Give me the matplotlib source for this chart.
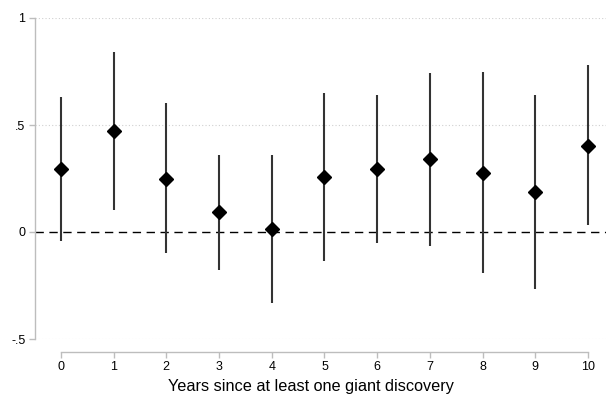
import matplotlib
matplotlib.use("Agg")
import matplotlib.pyplot as plt

years = [0, 1, 2, 3, 4, 5, 6, 7, 8, 9, 10]
coef = [0.294, 0.472, 0.248, 0.092, 0.014, 0.258, 0.294, 0.340, 0.277, 0.187, 0.403]
upper = [0.632, 0.843, 0.601, 0.361, 0.360, 0.651, 0.639, 0.743, 0.749, 0.639, 0.779]
lower = [-0.042, 0.103, -0.098, -0.178, -0.330, -0.136, -0.050, -0.064, -0.193, -0.266, 0.031]
yticks = [-0.5, 0, 0.5, 1]
yticklabels = ["-.5", "0", ".5", "1"]
xlabel = "Years since at least one giant discovery"

plt.rcParams['font.family'] = ['Liberation Sans', 'DejaVu Sans']

fig = plt.figure(figsize=(6.06, 3.97), dpi=100)
ax = fig.add_axes([35/606, 58/397, 571/606, 321/397])

for yv in [-0.5, 0.5, 1.0]:
    ax.axhline(yv, color='#d0d0d0', lw=0.8, ls=(0, (1, 2)), zorder=0)
ax.axhline(0, color='black', lw=1.0, ls=(0, (6, 4)), zorder=1)

ax.vlines(years, lower, upper, color='#333333', lw=1.5, zorder=2)
ax.plot(years, coef, 'D', color='black', markersize=7, zorder=3)

ax.set_xlim(-0.49, 10.34)
ax.set_ylim(-0.5, 1.0)

ax.set_yticks(yticks)
ax.set_yticklabels(yticklabels)
ax.set_xticks(years)
ax.set_xticklabels([str(y) for y in years])

for s in ['top', 'right']:
    ax.spines[s].set_visible(False)
ax.spines['left'].set_color('#bdbdbd')
ax.spines['left'].set_linewidth(1.0)
ax.spines['left'].set_bounds(-0.5, 1.0)
ax.spines['bottom'].set_color('#bdbdbd')
ax.spines['bottom'].set_linewidth(1.0)
ax.spines['bottom'].set_position(('outward', 9))
ax.spines['bottom'].set_bounds(0, 10)

ax.tick_params(axis='both', colors='#bdbdbd', labelcolor='black', labelsize=9, length=4, width=1.0)
ax.tick_params(axis='y', pad=3)
ax.tick_params(axis='x', pad=3)

ax.set_xlabel(xlabel, fontsize=11.7, labelpad=5)
ax.xaxis.set_label_coords(0.483, -0.125)

fig.savefig("out.png", dpi=100)
